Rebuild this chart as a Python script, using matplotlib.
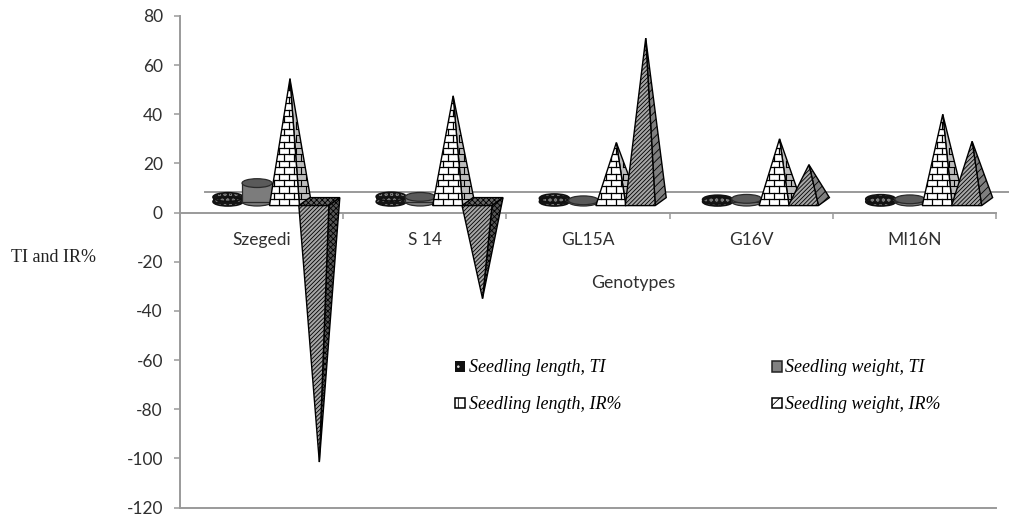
import numpy as np
import matplotlib
matplotlib.use("Agg")
import matplotlib.pyplot as plt
from matplotlib.patches import Polygon, Ellipse, Patch, Rectangle

genotypes = ["Szegedi", "S 14", "GL15A", "G16V", "MI16N"]
length_ti = [6.3, 6.5, 5.8, 5.3, 5.5]
weight_ti = [12.0, 6.4, 5.0, 5.6, 5.4]
length_ir = [54.5, 47.5, 28.5, 30.0, 40.0]
weight_ir = [-101.5, -35.0, 71.0, 19.5, 29.0]
series_labels = ["Seedling length, TI", "Seedling weight, TI",
                 "Seedling length, IR%", "Seedling weight, IR%"]
y_ticks = list(range(-120, 81, 20))

W, H = 1009, 515
plt.rcParams["hatch.linewidth"] = 0.6
plt.rcParams["axes.unicode_minus"] = False
fig = plt.figure(figsize=(W / 100, H / 100), dpi=100)
ax = fig.add_axes([180 / W, 1 - 507.5 / H, 816 / W, 491.5 / H])
ax.set_xlim(-0.5, 4.5)
ax.set_ylim(-120, 80)

PX = 816 / 5            # pixels per category
PY = 491.5 / 200        # pixels per unit
DX, DY = 11 / PX, 8 / PY
FLOOR = 7 / PY
BW = 30 / PX
GREY = "#9a9a9a"
OFFS = [-0.206, -0.028, 0.14, 0.32]

for s in ("top", "right"):
    ax.spines[s].set_visible(False)
ax.spines["left"].set_color(GREY)
ax.spines["left"].set_linewidth(1.4)
ax.spines["bottom"].set_position(("data", 0))
ax.spines["bottom"].set_color(GREY)
ax.spines["bottom"].set_linewidth(1.4)
ax.axhline(-120, color=GREY, lw=1.4, clip_on=False)
ax.plot([-0.5 + 25 / PX, 4.5 + 13 / PX], [8.5, 8.5], color=GREY, lw=1.4,
        clip_on=False, zorder=1)

ax.set_yticks(y_ticks)
ax.tick_params(axis="y", length=4.3, width=1.1, color=GREY, pad=8,
               labelsize=12.5, labelcolor="#303030")
ax.set_xticks(np.arange(0.5, 4.6, 1))
ax.set_xticklabels([])
ax.tick_params(axis="x", which="major", length=4.3, width=1.1, color=GREY)
ax.set_xticks(np.arange(5), minor=True)
ax.set_xticklabels(genotypes, minor=True)
ax.tick_params(axis="x", which="minor", length=0, pad=14, labelsize=12.5,
               labelcolor="#303030")
for lab in ax.get_xticklabels(which="both") + ax.get_yticklabels():
    lab.set_family("Lato")

z = [10]


def nz():
    z[0] += 1
    return z[0]


def bricks(poly, ymin, ymax, x0, x1, color="k", lw=0.9):
    """Brick courses clipped to a polygon."""
    step = 6.4 / PY
    rows = np.arange(ymin, ymax, step)
    zz = poly.get_zorder() + 0.1
    for i, y in enumerate(rows):
        l, = ax.plot([x0, x1], [y, y], color=color, lw=lw, zorder=zz)
        l.set_clip_path(poly)
        xs = np.arange(x0 + (i % 2) * 5 / PX, x1, 10 / PX)
        for x in xs:
            v, = ax.plot([x, x], [y, y + step], color=color, lw=lw, zorder=zz)
            v.set_clip_path(poly)


def cylinder(xc, top, face, hatch=None, hatchcolor="k", topface=None):
    cy = FLOOR + DY / 2
    ry = DY * 1.1
    w = BW
    tv = max(top, cy)
    zb = nz()
    kw = dict(facecolor=face, edgecolor=hatchcolor if hatch else "#2a2a2a",
              hatch=hatch, lw=0 if hatch else 0.9, zorder=zb)
    ax.add_patch(Ellipse((xc, cy), w, ry, **kw))
    ax.add_patch(Rectangle((xc - w / 2, cy), w, tv - cy, **kw))
    ax.add_patch(Ellipse((xc, tv), w, ry,
                         facecolor=topface or face,
                         edgecolor=hatchcolor if hatch else "#2a2a2a",
                         hatch=hatch, lw=0 if hatch else 0.9, zorder=zb + 0.2))
    if hatch:
        ax.add_patch(Ellipse((xc, cy), w, ry, fill=False, edgecolor="#111",
                             lw=1.2, zorder=zb + 0.3))
        ax.add_patch(Ellipse((xc, tv), w, ry, fill=False, edgecolor="#111",
                             lw=1.2, zorder=zb + 0.3))


def pyramid(xc, v, face, side, hatch, side_hatch, brick=False):
    xl, xr = xc - BW / 2, xc + BW / 2
    tip = (xc + DX / 2, v)
    if v >= 0:
        s = Polygon([(xr, FLOOR), (xr + DX, FLOOR + DY), tip], closed=True,
                    facecolor=side, edgecolor="k", hatch=side_hatch, lw=1.0,
                    zorder=nz())
        ax.add_patch(s)
        if brick:
            bricks(s, FLOOR, v, xr - 0.02, xr + DX + 0.02, lw=0.8)
        f = Polygon([(xl, FLOOR), (xr, FLOOR), tip], closed=True, facecolor=face,
                    edgecolor="k", hatch=hatch, lw=1.0, zorder=nz())
        ax.add_patch(f)
        if brick:
            bricks(f, FLOOR, v, xl, xr)
    else:
        t = Polygon([(xl, FLOOR), (xr, FLOOR), (xr + DX, FLOOR + DY),
                     (xl + DX, FLOOR + DY)], closed=True, facecolor="#666666",
                    edgecolor="k", hatch="xxxxxx", lw=1.0, zorder=nz())
        ax.add_patch(t)
        ax.add_patch(Polygon([(xr, FLOOR), (xr + DX, FLOOR + DY), tip], closed=True,
                             facecolor="#555555", edgecolor="k", hatch="xxxxxx", lw=1.0,
                             zorder=nz()))
        ax.add_patch(Polygon([(xl, FLOOR), (xr, FLOOR), tip], closed=True,
                             facecolor=face, edgecolor="k", hatch=hatch, lw=1.0,
                             zorder=nz()))


for i in range(len(genotypes)):
    cylinder(i + OFFS[0], length_ti[i], "#161616", hatch="ooo", hatchcolor="#7a7a7a")
    cylinder(i + OFFS[1], weight_ti[i], "#7c7c7c", topface="#5a5a5a")
    pyramid(i + OFFS[2], length_ir[i], "white", "#bdbdbd", None, None, brick=True)
    pyramid(i + OFFS[3], weight_ir[i], "#a6a6a6", "#7f7f7f", "////////", "////")

handles = [
    Patch(facecolor="#111111", edgecolor="#dddddd", hatch="..", lw=0),
    Patch(facecolor="#808080", edgecolor="#222222", lw=1.1),
    Patch(facecolor="white", edgecolor="black", hatch="+", lw=1.1),
    Patch(facecolor="white", edgecolor="black", hatch="///", lw=1.1),
]
# legend fills column by column, so order the handles accordingly
order = [0, 2, 1, 3]
leg = ax.legend([handles[k] for k in order], [series_labels[k] for k in order],
                ncol=2, frameon=False, loc="upper left",
                bbox_to_anchor=((455 - 180) / 816, 1 - (359.5 - 16) / 491.5),
                borderaxespad=0, borderpad=0,
                prop={"family": "Liberation Serif", "style": "italic", "size": 13},
                handlelength=0.55, handleheight=0.55, handletextpad=0.2,
                labelspacing=1.1, columnspacing=8.35)
leg.set_zorder(100)

fig.text(633 / W, 1 - 283 / H, "Genotypes", family="Lato", fontsize=12.7,
         color="#303030", ha="center", va="center")
fig.text(11 / W, 1 - 257 / H, "TI and IR%", family="Liberation Serif", fontsize=13,
         color="#222222", ha="left", va="center")

fig.savefig("out.png", dpi=100)
